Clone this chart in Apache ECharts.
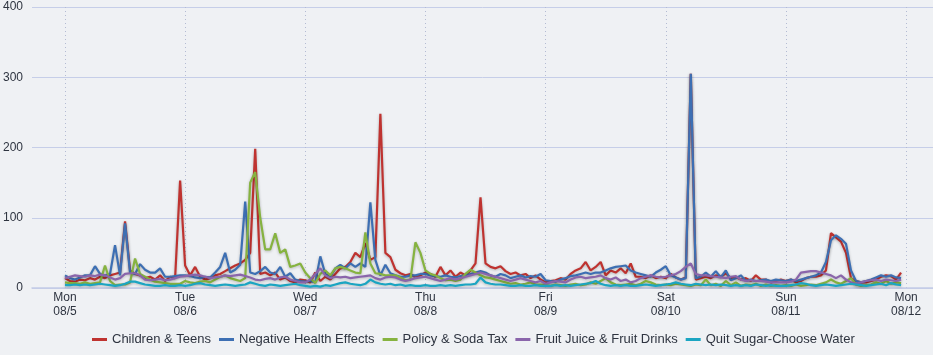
<!DOCTYPE html>
<html>
<head>
<meta charset="utf-8">
<script src="https://cdn.jsdelivr.net/npm/echarts@6/dist/echarts.min.js"></script>
<style>
html,body{margin:0;padding:0;background:#eff1f4;}
#chart{width:933px;height:355px;}
</style>
</head>
<body>
<div id="chart"></div>
<script>
// Day tick labels (one tick every 24 hourly points)
const dayNames = ['Mon','Tue','Wed','Thu','Fri','Sat','Sun','Mon'];
const dayDates = ['08/5','08/6','08/7','08/8','08/9','08/10','08/11','08/12'];
const seriesNames = ['Children & Teens','Negative Health Effects','Policy & Soda Tax','Fruit Juice & Fruit Drinks','Quit Sugar-Choose Water'];

// Hourly values, Mon 08/5 00:00 .. Sun 08/11 23:00
const childrenTeens = [
  14,10,9,12,11,14,12,16,14,18,20,22,95,25,20,18,14,16,12,18,10,16,14,153,
  32,18,30,16,12,14,18,20,24,28,32,35,40,50,198,20,22,18,22,12,15,10,8,12,
  11,8,22,10,16,12,20,28,30,37,50,44,64,40,44,248,50,44,26,21,18,20,15,18,
  22,20,16,30,18,25,16,22,18,25,35,129,35,30,28,31,24,20,22,18,20,14,18,12,
  8,10,11,14,12,20,25,28,37,25,30,37,18,25,22,28,21,35,16,16,14,18,14,16,
  14,20,15,12,15,305,12,14,16,14,18,16,21,14,16,12,14,10,18,12,12,8,10,12,
  10,12,8,10,14,16,16,18,25,78,72,66,50,14,10,8,8,10,12,16,18,17,12,22
];
const negativeHealth = [
  18,14,12,15,18,18,31,20,18,20,61,18,92,22,20,34,26,22,22,28,16,16,17,18,
  18,17,15,14,16,15,22,30,50,22,26,33,123,22,20,24,30,22,20,30,16,21,12,10,
  9,10,8,45,20,16,28,33,28,35,30,35,30,122,40,18,33,21,18,16,16,18,18,20,
  20,18,17,16,18,16,15,17,18,20,22,24,22,18,16,20,18,14,16,18,15,17,16,20,
  11,10,9,12,14,17,18,20,22,20,22,22,25,28,30,31,32,25,22,20,18,16,22,26,
  31,18,15,12,14,305,14,16,22,16,24,15,25,11,14,18,10,12,10,11,12,10,12,11,
  10,12,10,12,14,16,18,22,37,68,75,70,63,25,10,8,10,12,15,18,16,18,15,14
];
const policySodaTax = [
  8,7,7,6,8,6,7,8,32,10,4,5,5,8,42,20,16,12,9,8,7,6,6,6,
  10,8,7,9,10,8,12,16,18,14,12,10,14,150,165,100,55,55,78,50,55,30,32,35,
  22,14,7,20,25,18,28,30,28,25,22,21,79,35,21,20,18,18,18,15,11,12,65,50,
  25,20,18,14,11,12,10,12,20,26,22,18,15,14,12,10,8,6,7,5,6,8,5,5,
  4,3,5,4,3,5,6,4,5,8,6,10,14,8,5,4,5,6,4,6,10,8,5,4,
  5,4,6,5,4,3,5,4,12,4,6,3,10,4,8,3,5,4,6,3,5,3,4,3,
  4,3,5,3,4,5,4,6,8,12,8,6,10,14,5,3,4,5,8,6,10,6,8,7
];
const fruitJuice = [
  14,16,18,17,16,18,17,19,18,15,12,14,20,21,21,18,12,11,12,13,11,12,14,16,
  17,18,19,18,16,14,15,16,18,17,18,19,17,15,12,11,13,14,12,15,16,12,10,8,
  8,12,20,28,18,14,16,15,16,14,15,16,17,18,14,12,15,16,15,12,10,12,14,15,
  16,14,12,10,12,14,12,14,16,18,20,22,20,18,16,14,12,10,12,14,12,10,8,10,
  6,8,10,9,8,12,15,16,14,15,16,18,14,12,15,10,12,8,10,14,16,18,16,15,
  16,18,20,24,30,35,20,18,18,17,16,15,14,16,17,12,10,11,10,10,9,8,8,8,
  8,9,12,22,23,24,24,22,20,18,14,18,12,8,6,8,10,11,12,10,12,11,10,12
];
const quitSugar = [
  4,4,5,4,5,4,5,6,5,4,3,4,6,9,9,7,5,4,3,3,4,3,3,4,
  3,4,6,7,5,4,3,4,5,4,3,4,5,8,6,4,3,5,4,3,4,5,6,4,
  3,2,3,2,4,3,5,7,8,6,5,4,6,12,8,6,5,6,4,5,3,4,3,3,
  4,3,3,4,3,4,3,4,5,5,6,15,8,6,5,5,4,3,3,4,3,3,4,3,
  3,3,4,3,4,3,4,5,6,7,10,6,4,3,4,3,4,3,3,4,5,4,3,4,
  5,6,8,6,5,4,6,5,4,5,4,5,4,3,4,3,4,3,5,4,3,4,3,3,
  3,4,5,7,6,4,3,4,5,4,3,4,5,6,5,4,3,4,5,6,4,7,5,4
];

const allValues = [childrenTeens, negativeHealth, policySodaTax, fruitJuice, quitSugar];
const colors = ['#bf3330','#3d6fb3','#86b340','#8a65ab','#1ba5c2'];
const dayTicks = dayNames.map((d, i) => i * 24);

const chart = echarts.init(document.getElementById('chart'), null, {renderer: 'canvas'});
chart.setOption({
  animation: false,
  backgroundColor: '#eff1f4',
  color: colors,
  grid: {left: 30, right: 0, top: 7, bottom: 67, containLabel: false},
  legend: {
    left: 87, top: 328,
    icon: 'rect', itemWidth: 15, itemHeight: 3, itemGap: 8,
    textStyle: {fontFamily: 'Liberation Sans, Arial, sans-serif', fontSize: 13, color: '#2e3440'},
    data: seriesNames
  },
  xAxis: {
    type: 'value', min: -6.58, max: 173.38,
    axisLine: {show: true, lineStyle: {color: '#c3cce6', width: 1.5}},
    axisTick: {show: false, customValues: dayTicks},
    axisLabel: {
      customValues: dayTicks,
      formatter: v => { const i = Math.round(v / 24); return dayNames[i] + '\n' + dayDates[i]; },
      fontFamily: 'Liberation Sans, Arial, sans-serif', fontSize: 12, color: '#2e3440', lineHeight: 14, margin: 3
    },
    splitLine: {show: true, lineStyle: {type: [1, 3], color: '#b3bbd3', width: 1}}
  },
  yAxis: {
    type: 'value', min: 0, max: 400, interval: 100,
    axisLine: {show: false}, axisTick: {show: false},
    axisLabel: {fontFamily: 'Liberation Sans, Arial, sans-serif', fontSize: 12, color: '#2e3440', margin: 9},
    splitLine: {lineStyle: {color: '#c6cee8', width: 1}}
  },
  series: seriesNames.map((name, k) => ({
    name: name, type: 'line', symbol: 'none', showSymbol: false,
    data: allValues[k].map((v, i) => [i, v]),
    lineStyle: {width: 2.2, shadowColor: 'rgba(0,0,0,0.25)', shadowBlur: 3, shadowOffsetY: 1},
    emphasis: {disabled: true}
  }))
});
</script>
</body>
</html>
